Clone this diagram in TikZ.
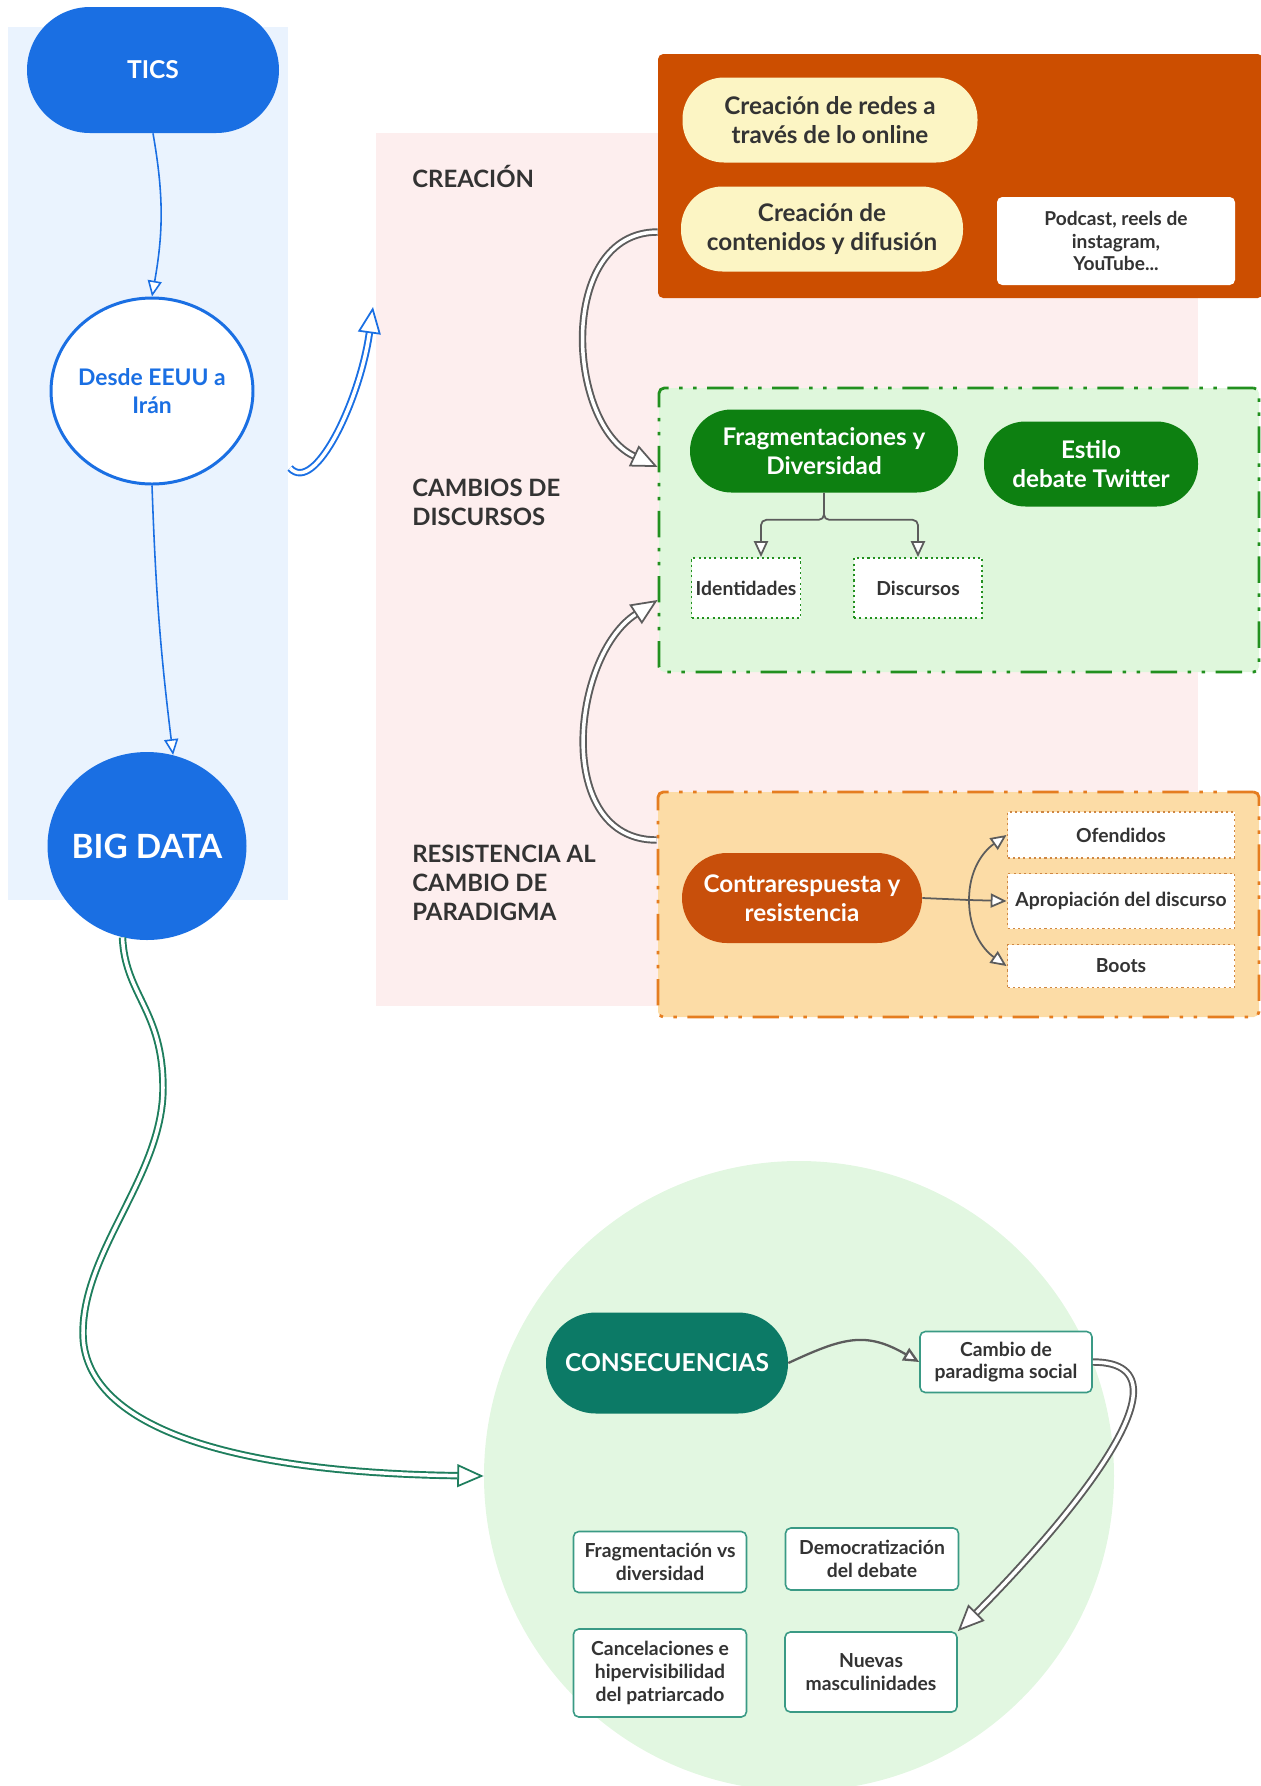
\documentclass[tikz,border=0pt]{standalone}
\usepackage{fontspec}
\setmainfont{Lato}
\usepackage{tikz}
\usetikzlibrary{shapes.geometric}
\usetikzlibrary{arrows.meta}
\usepackage{xcolor}

\definecolor{ticsblue}{HTML}{1A6FE3}
\definecolor{bluebg}{HTML}{EAF3FE}
\definecolor{pinkbg}{HTML}{FDEEEE}
\definecolor{rust}{HTML}{CC4E00}
\definecolor{cream}{HTML}{FCF5C4}
\definecolor{mint}{HTML}{DFF7DC}
\definecolor{leafgreen}{HTML}{22901F}
\definecolor{deepgreen}{HTML}{0D8011}
\definecolor{peach}{HTML}{FCDCA6}
\definecolor{peachline}{HTML}{E57D20}
\definecolor{brick}{HTML}{C84F0B}
\definecolor{dotorange}{HTML}{CF8743}
\definecolor{consteal}{HTML}{0C7A66}
\definecolor{boxteal}{HTML}{3A9A85}
\definecolor{softgreen}{HTML}{E2F7E1}
\definecolor{linkgray}{HTML}{5C5C5C}
\definecolor{labelgray}{HTML}{333333}
\definecolor{wavegreen}{HTML}{1E7E5D}

\begin{document}
\begin{tikzpicture}
        % ================= 样式定义 =================
        \tikzset{
            % 药丸形节点
            pill/.style={rectangle, rounded corners=8.3mm, inner sep=0pt, align=center, text=white, font=\bfseries\fontsize{13.8}{16.5}\selectfont},
            % 椭圆节点
            oval/.style={ellipse, inner ysep=0pt, inner xsep=-0.15cm, align=center},
            % 区块标题
            seclabel/.style={anchor=west, align=left, inner sep=0pt, text=labelgray, font=\bfseries\fontsize{13.6}{16.6}\selectfont},
            % 大色块
            panel/.style={rectangle, rounded corners=3pt, inner sep=0pt},
            % 点划线框
            dashpanel/.style={panel, line width=1.6pt, dash pattern=on 15pt off 6pt on 2pt off 6pt on 2pt off 6pt},
            % 点线小框
            dotbox/.style={rectangle, fill=white, line width=1.1pt, dash pattern=on 1.2pt off 1.8pt, inner sep=1pt, align=center, text=labelgray, font=\bfseries\fontsize{11}{13}\selectfont},
            % 白色小框
            whitebox/.style={rectangle, rounded corners=3pt, fill=white, inner sep=0pt, align=center, text=labelgray, font=\bfseries\fontsize{11}{13}\selectfont},
            % 连边样式
            flow/.style={linkgray, line width=1pt, -{Triangle[length=9pt, width=8pt, fill=white]}},
            plainflow/.style={linkgray, line width=1pt},
            blueflow/.style={ticsblue, line width=0.9pt, -{Triangle[length=9pt, width=8pt, fill=white]}},
            dblflow/.style={draw=#1, line width=1.1pt, double=white, double distance=2pt, -{Triangle[length=15pt, width=13pt, fill=white, line width=1pt]}}
        }

        \useasboundingbox (0,0) rectangle (25.22,-35.72);
        \clip (0,0) rectangle (25.22,-35.72);

        % ================= 背景 =================
        \fill[bluebg] (0.16,-0.54) rectangle (5.76,-18.0);
        \fill[pinkbg] (7.52,-2.66) rectangle (23.96,-20.12);
        \node[circle, fill=softgreen, minimum size=12.6cm, inner sep=0pt] (consbg) at (15.98,-29.52) {};

        % ================= 左侧:TICS =================
        \node[pill, rounded corners=12.6mm, fill=ticsblue, minimum width=5.04cm, minimum height=2.52cm, font=\bfseries\fontsize{14}{17}\selectfont] (tics) at (3.06,-1.40) {TICS};
        \node[oval, draw=ticsblue, line width=1.7pt, fill=white, text=ticsblue, minimum width=4.04cm, minimum height=3.72cm, font=\bfseries\fontsize{13}{16}\selectfont] (desde) at (3.04,-7.82) {Desde EEUU a\\Irán};
        \node[oval, fill=ticsblue, text=white, minimum width=3.98cm, minimum height=3.76cm, font=\bfseries\fontsize{19}{22}\selectfont] (bigdata) at (2.94,-16.92) {BIG DATA};

        % ================= 区块标题 =================
        \node[seclabel] (lblcrea) at (8.24,-3.52) {CREACIÓN};
        \node[seclabel] (lblcamb) at (8.24,-10.04) {CAMBIOS DE\\DISCURSOS};
        \node[seclabel] (lblresis) at (8.24,-17.66) {RESISTENCIA AL\\CAMBIO DE\\PARADIGMA};

        % ================= 创作 =================
        \node[panel, fill=rust, minimum width=12.1cm, minimum height=4.88cm] (creabox) at (19.21,-3.52) {};
        \node[pill, fill=cream, text=labelgray, minimum width=5.9cm, minimum height=1.7cm] (redes) at (16.6,-2.4) {Creación de redes a\\través de lo online};
        \node[pill, fill=cream, text=labelgray, minimum width=5.64cm, minimum height=1.7cm] (conten) at (16.44,-4.58) {Creación de\\contenidos y difusión};
        \node[whitebox, minimum width=4.76cm, minimum height=1.76cm, font=\bfseries\fontsize{10.9}{13}\selectfont] (podcast) at (22.32,-4.82) {Podcast, reels de\\instagram,\\YouTube...};

        % ================= 话语变化 =================
        \node[dashpanel, draw=leafgreen, fill=mint, minimum width=12.0cm, minimum height=5.68cm] (cambbox) at (19.18,-10.6) {};
        \node[pill, fill=deepgreen, minimum width=5.36cm, minimum height=1.66cm] (frag) at (16.48,-9.02) {Fragmentaciones y\\Diversidad};
        \node[pill, fill=deepgreen, minimum width=4.28cm, minimum height=1.7cm] (estilo) at (21.82,-9.28) {Estilo\\debate Twitter};
        \node[dotbox, draw=leafgreen, minimum width=2.18cm, minimum height=1.2cm] (ident) at (14.92,-11.76) {Identidades};
        \node[dotbox, draw=leafgreen, minimum width=2.56cm, minimum height=1.2cm] (discur) at (18.36,-11.76) {Discursos};

        % ================= 抵抗 =================
        \node[dashpanel, draw=peachline, fill=peach, minimum width=12.02cm, minimum height=4.5cm] (resisbox) at (19.17,-18.09) {};
        \node[pill, rounded corners=9mm, fill=brick, minimum width=4.8cm, minimum height=1.8cm] (contra) at (16.04,-17.96) {Contrarespuesta y\\resistencia};
        \node[dotbox, draw=dotorange, minimum width=4.54cm, minimum height=0.92cm] (ofend) at (22.42,-16.7) {Ofendidos};
        \node[dotbox, draw=dotorange, minimum width=4.54cm, minimum height=1.1cm] (aprop) at (22.42,-18.02) {Apropiación del discurso};
        \node[dotbox, draw=dotorange, minimum width=4.54cm, minimum height=0.86cm] (boots) at (22.42,-19.32) {Boots};
        \coordinate (fork) at (19.38,-18.0);

        % ================= 后果 =================
        \node[pill, rounded corners=10mm, fill=consteal, minimum width=4.84cm, minimum height=2.02cm, font=\bfseries\fontsize{14}{17}\selectfont] (cons) at (13.34,-27.26) {CONSECUENCIAS};
        \node[whitebox, draw=boxteal, line width=0.9pt, minimum width=3.44cm, minimum height=1.22cm] (cambio) at (20.12,-27.24) {Cambio de\\paradigma social};
        \node[whitebox, draw=boxteal, line width=0.9pt, minimum width=3.46cm, minimum height=1.22cm] (fragvs) at (13.2,-31.24) {Fragmentación vs\\diversidad};
        \node[whitebox, draw=boxteal, line width=0.9pt, minimum width=3.46cm, minimum height=1.24cm] (democ) at (17.44,-31.18) {Democratización\\del debate};
        \node[whitebox, draw=boxteal, line width=0.9pt, minimum width=3.46cm, minimum height=1.76cm] (cancel) at (13.2,-33.46) {Cancelaciones e\\hipervisibilidad\\del patriarcado};
        \node[whitebox, draw=boxteal, line width=0.9pt, minimum width=3.44cm, minimum height=1.6cm] (nuevas) at (17.42,-33.44) {Nuevas\\masculinidades};

        % ================= 连边 =================
        % 1. 左侧蓝色主线
        \draw[blueflow] (tics.south) to[out=-80, in=80] (desde.north);
        \draw[blueflow] (desde.south) to[out=-88, in=97] (bigdata.74);

        % 2. 指向中间区块的双线箭头
        \coordinate (hookstart) at (5.8,-9.36);
        \coordinate (hookend) at (7.46,-6.14);
        \draw[dblflow=ticsblue] (hookstart) .. controls (6.3,-9.9) and (7.2,-8.0) .. (hookend);

        % 3. 区块之间的灰色双线
        \draw[dblflow=linkgray] ([yshift=-1.12cm]creabox.west) to[out=180, in=155, looseness=1.1] ([yshift=1.26cm]cambbox.west);
        \draw[dblflow=linkgray] ([yshift=1.29cm]resisbox.west) to[out=180, in=213, looseness=1.1] ([yshift=-1.4cm]cambbox.west);

        % 4. 分支
        \draw[flow, rounded corners=3pt] (frag.south) -- ++(0,-0.54) -| ([xshift=0.3cm]ident.north);
        \draw[flow, rounded corners=3pt] (frag.south) -- ++(0,-0.54) -| (discur.north);
        \draw[plainflow] (contra.east) -- (fork);
        \draw[flow] (fork) -- (aprop.west);
        \draw[flow] (fork) to[out=90, in=215] (ofend.west);
        \draw[flow] (fork) to[out=-90, in=145] (boots.west);

        % 5. BIG DATA 到后果 (绿色波浪双线)
        \draw[dblflow=wavegreen] (bigdata.255) .. controls (2.5,-19.9) and (3.26,-20.2) .. (3.26,-21.76)
            .. controls (3.26,-23.5) and (1.66,-25.0) .. (1.66,-26.66)
            .. controls (1.66,-28.5) and (4.5,-29.45) .. (consbg.west);

        % 6. 后果内部
        \draw[flow, line width=1.3pt] (cons.east) to[out=25, in=150, looseness=1.2] (cambio.west);
        \draw[dblflow=linkgray] (cambio.east) to[out=0, in=45] (nuevas.north east);

\end{tikzpicture}
\end{document}
